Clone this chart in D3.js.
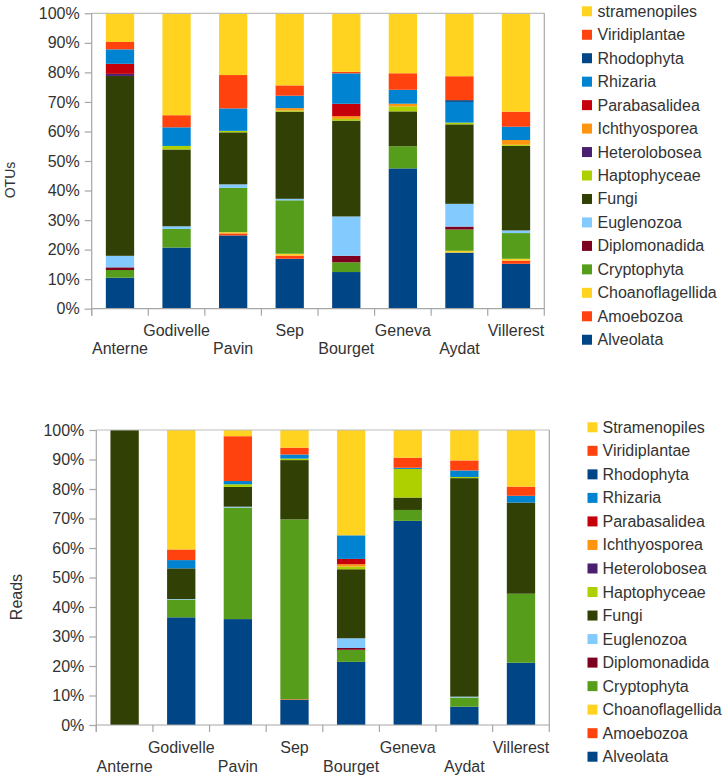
<!DOCTYPE html>
<html>
<head>
<meta charset="utf-8">
<script src="https://cdn.jsdelivr.net/npm/d3@7/dist/d3.min.js"></script>
<style>
  html, body { margin: 0; padding: 0; background: #fff; }
  svg { display: block; font-family: "Liberation Sans", Arial, sans-serif; }
</style>
</head>
<body>
<svg id="chart" width="725" height="779"></svg>
<script>
// ---------- DATA ----------
const categories = ["Anterne", "Godivelle", "Pavin", "Sep", "Bourget", "Geneva", "Aydat", "Villerest"];

const otuSeries = ["Alveolata", "Amoebozoa", "Choanoflagellida", "Cryptophyta", "Diplomonadida",
  "Euglenozoa", "Fungi", "Haptophyceae", "Heterolobosea", "Ichthyosporea", "Parabasalidea",
  "Rhizaria", "Rhodophyta", "Viridiplantae", "stramenopiles"];
const readSeries = ["Alveolata", "Amoebozoa", "Choanoflagellida", "Cryptophyta", "Diplomonadida",
  "Euglenozoa", "Fungi", "Haptophyceae", "Heterolobosea", "Ichthyosporea", "Parabasalidea",
  "Rhizaria", "Rhodophyta", "Viridiplantae", "Stramenopiles"];

const seriesColors = ["#004586", "#ff420e", "#ffd320", "#579d1c", "#7e0021",
  "#83caff", "#314004", "#aecf00", "#4b1f6f", "#ff950e", "#c5000b",
  "#0084d1", "#004586", "#ff420e", "#ffd320"];

// percentages per series (rows) for each category (columns)
const otuValues = [
  [10.5, 20.7, 24.8, 16.9, 12.4, 47.5, 19.0, 15.2], // Alveolata
  [0, 0, 0.7, 1.1, 0, 0, 0, 1.1],                   // Amoebozoa
  [0, 0, 0.4, 0.6, 0, 0, 0.6, 0.6],                 // Choanoflagellida
  [2.6, 6.3, 15.0, 18.1, 3.3, 7.5, 7.2, 8.7],       // Cryptophyta
  [0.9, 0, 0, 0, 2.2, 0, 1.0, 0],                   // Diplomonadida
  [3.9, 0.9, 1.2, 0.5, 13.3, 0, 7.7, 0.9],          // Euglenozoa
  [60.9, 26.0, 17.6, 29.5, 32.4, 11.8, 26.9, 28.6], // Fungi
  [0, 1.2, 0.5, 0.4, 0.6, 1.7, 0.6, 0.4],           // Haptophyceae
  [0.7, 0, 0, 0, 0, 0, 0, 0],                       // Heterolobosea
  [0, 0, 0, 0.8, 0.9, 0.9, 0, 1.6],                 // Ichthyosporea
  [3.4, 0, 0, 0, 4.2, 0, 0, 0],                     // Parabasalidea
  [4.9, 6.3, 7.6, 4.2, 10.3, 4.7, 7.0, 4.5],        // Rhizaria
  [0, 0, 0, 0, 0, 0, 0.6, 0],                       // Rhodophyta
  [2.5, 4.1, 11.3, 3.5, 0.5, 5.6, 8.1, 5.1],        // Viridiplantae
  [9.7, 34.5, 20.9, 24.4, 19.8, 20.3, 21.3, 33.3]   // stramenopiles
];

const readValues = [
  [0, 36.5, 35.9, 8.5, 21.4, 69.2, 6.2, 21.1],      // Alveolata
  [0, 0, 0, 0.2, 0, 0, 0, 0],                       // Amoebozoa
  [0, 0, 0, 0, 0, 0, 0, 0],                         // Choanoflagellida
  [0, 6.0, 37.8, 61.0, 4.1, 3.7, 3.1, 23.4],        // Cryptophyta
  [0, 0, 0, 0, 0.6, 0, 0, 0],                       // Diplomonadida
  [0, 0.2, 0.3, 0, 3.3, 0, 0.3, 0],                 // Euglenozoa
  [100, 10.4, 6.7, 20.1, 23.4, 4.2, 74.0, 30.9],    // Fungi
  [0, 0, 0.9, 0.5, 0.9, 9.7, 0.4, 0],               // Haptophyceae
  [0, 0, 0, 0, 0, 0, 0, 0],                         // Heterolobosea
  [0, 0, 0, 0, 0.8, 0, 0, 0],                       // Ichthyosporea
  [0, 0, 0, 0, 1.8, 0, 0, 0],                       // Parabasalidea
  [0, 2.8, 1.1, 1.4, 8.0, 0.4, 2.2, 2.3],           // Rhizaria
  [0, 0, 0, 0, 0, 0, 0, 0],                         // Rhodophyta
  [0, 3.6, 15.2, 2.3, 0, 3.4, 3.4, 3.1],            // Viridiplantae
  [0, 40.5, 2.1, 6.0, 35.7, 9.4, 10.3, 19.2]        // Stramenopiles
];

const yTicks = [0, 0.1, 0.2, 0.3, 0.4, 0.5, 0.6, 0.7, 0.8, 0.9, 1.0];

// ---------- DRAW ----------
const svg = d3.select("#chart");
const textColor = "#333";
const axisColor = "#a6a6a6";

function drawChart(opt) {
  const { names, values, left, right, top, bottom, yLabel, yLabelX, yLabelY, yLabelSize,
          labelYUpper, labelYLower, legendSquareX, legendTextX, legendFirstY, legendStep } = opt;

  const rows = categories.map((c, ci) => {
    const r = { cat: c };
    names.forEach((n, si) => { r[n] = values[si][ci]; });
    return r;
  });
  const stack = d3.stack().keys(names).offset(d3.stackOffsetExpand);
  const layers = stack(rows);

  const x = d3.scaleBand().domain(categories).range([left, right]).paddingInner(0.5).paddingOuter(0.25);
  const y = d3.scaleLinear().domain([0, 1]).range([bottom, top]);
  const color = d3.scaleOrdinal().domain(names).range(seriesColors);

  const g = svg.append("g");

  // bars
  g.selectAll("g.layer").data(layers).join("g").attr("class", "layer")
    .attr("fill", d => color(d.key))
    .selectAll("rect").data(d => d).join("rect")
    .attr("x", d => x(d.data.cat))
    .attr("width", x.bandwidth())
    .attr("y", d => y(d[1]))
    .attr("height", d => Math.max(0, y(d[0]) - y(d[1])));

  // frame: top and right borders
  g.append("line").attr("x1", left).attr("x2", right).attr("y1", top).attr("y2", top)
    .attr("stroke", "#bdbdbd").attr("stroke-width", 1.2);
  g.append("line").attr("x1", right).attr("x2", right).attr("y1", top).attr("y2", bottom)
    .attr("stroke", axisColor).attr("stroke-width", 1.2);

  // y axis
  const yAxis = d3.axisLeft(y).tickValues(yTicks).tickFormat(d3.format(".0%")).tickSize(7).tickPadding(5);
  const ya = g.append("g").attr("transform", `translate(${left},0)`).call(yAxis);
  ya.select(".domain").attr("stroke", axisColor).attr("stroke-width", 1.2)
    .attr("d", `M0,${top}V${bottom + 7}`);
  ya.selectAll(".tick line").attr("stroke", axisColor).attr("stroke-width", 1.2);
  ya.selectAll(".tick text").attr("fill", textColor).attr("font-size", 16)
    .attr("font-family", "Liberation Sans, Arial, sans-serif");

  // x axis (category boundaries as ticks)
  const xa = g.append("g").attr("transform", `translate(0,${bottom})`);
  xa.append("line").attr("x1", left).attr("x2", right).attr("y1", 0).attr("y2", 0)
    .attr("stroke", axisColor).attr("stroke-width", 1.2);
  const bounds = d3.range(categories.length + 1).map(i => left + i * x.step());
  xa.selectAll("line.bt").data(bounds).join("line").attr("class", "bt")
    .attr("x1", d => d).attr("x2", d => d).attr("y1", 0).attr("y2", 7)
    .attr("stroke", axisColor).attr("stroke-width", 1.2);
  g.selectAll("text.cat").data(categories).join("text").attr("class", "cat")
    .attr("x", d => x(d) + x.bandwidth() / 2)
    .attr("y", (d, i) => i % 2 === 0 ? labelYLower : labelYUpper)
    .attr("text-anchor", "middle").attr("font-size", 16).attr("fill", textColor)
    .text(d => d);

  // y label
  g.append("text").attr("transform", `translate(${yLabelX},${yLabelY}) rotate(-90)`)
    .attr("text-anchor", "middle").attr("dominant-baseline", "central")
    .attr("font-size", yLabelSize).attr("fill", textColor).text(yLabel);

  // legend (reverse order, top = last series)
  const legendNames = names.slice().reverse();
  const lg = g.selectAll("g.leg").data(legendNames).join("g").attr("class", "leg")
    .attr("transform", (d, i) => `translate(0,${legendFirstY + i * legendStep})`);
  lg.append("rect").attr("x", legendSquareX).attr("y", -5).attr("width", 10).attr("height", 10)
    .attr("fill", d => color(d));
  lg.append("text").attr("x", legendTextX).attr("y", 0).attr("dominant-baseline", "central")
    .attr("font-size", 16).attr("fill", textColor).text(d => d);
}

drawChart({
  names: otuSeries, values: otuValues,
  left: 91.7, right: 544.3, top: 13.3, bottom: 308.7,
  yLabel: "OTUs", yLabelX: 10, yLabelY: 180, yLabelSize: 14,
  labelYUpper: 336, labelYLower: 354,
  legendSquareX: 582, legendTextX: 597.5, legendFirstY: 11.3, legendStep: 23.46
});

drawChart({
  names: readSeries, values: readValues,
  left: 96.3, right: 549.3, top: 430, bottom: 725,
  yLabel: "Reads", yLabelX: 16, yLabelY: 597, yLabelSize: 16,
  labelYUpper: 753, labelYLower: 772,
  legendSquareX: 587.5, legendTextX: 602.5, legendFirstY: 427.3, legendStep: 23.53
});
</script>
</body>
</html>
